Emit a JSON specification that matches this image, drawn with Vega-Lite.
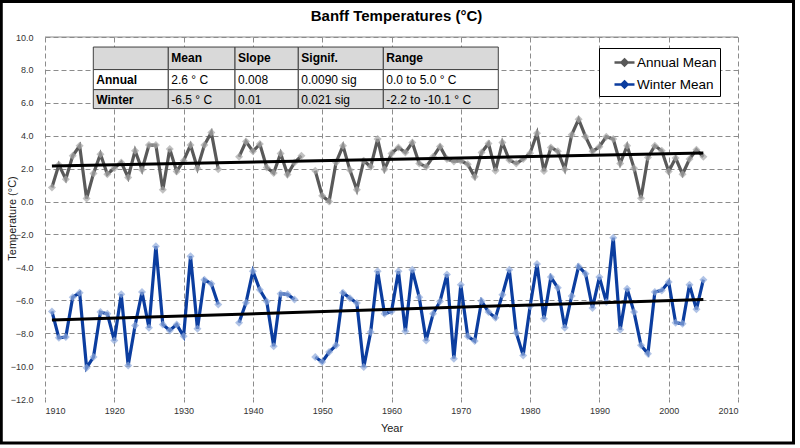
{
  "$schema": "https://vega.github.io/schema/vega-lite/v6.json",
  "width": 693,
  "height": 362,
  "autosize": {"type": "none"},
  "padding": {"left": 45, "top": 37, "right": 62, "bottom": 49},
  "background": "#ffffff",
  "config": {
    "font": "Liberation Sans",
    "view": {"stroke": null},
    "axis": {
      "domain": false, "grid": true, "gridDash": [5, 3], "gridColor": "#8c8c8c",
      "labelFont": "Liberation Sans", "labelFontSize": 9, "labelColor": "#333333",
      "titleFont": "Liberation Sans", "titleFontSize": 11, "titleFontWeight": "normal", "titleColor": "#222222"
    },
    "axisX": {"ticks": true, "tickSize": 3, "tickColor": "#888888", "labelPadding": 4, "titlePadding": 7},
    "axisY": {"ticks": false, "labelPadding": 12, "titleX": -33, "titleY": 181, "titleAngle": -90, "titleAlign": "center", "titleBaseline": "middle"}
  },
  "title": {"text": "Banff Temperatures (°C)", "font": "Liberation Sans", "fontSize": 15, "fontWeight": "bold", "color": "#000000", "offset": -24, "dx": 5, "anchor": "middle"},
  "datasets": {
    "temps": [
      {"year": 1911, "Annual Mean": 0.85, "Winter Mean": -6.68},
      {"year": 1912, "Annual Mean": 2.23, "Winter Mean": -8.28},
      {"year": 1913, "Annual Mean": 1.36, "Winter Mean": -8.23},
      {"year": 1914, "Annual Mean": 2.78, "Winter Mean": -5.81},
      {"year": 1915, "Annual Mean": 3.39, "Winter Mean": -5.54},
      {"year": 1916, "Annual Mean": 0.18, "Winter Mean": -10.1},
      {"year": 1917, "Annual Mean": 1.71, "Winter Mean": -9.45},
      {"year": 1918, "Annual Mean": 2.88, "Winter Mean": -6.72},
      {"year": 1919, "Annual Mean": 1.66, "Winter Mean": -6.82},
      {"year": 1920, "Annual Mean": 2.03, "Winter Mean": -8.44},
      {"year": 1921, "Annual Mean": 2.38, "Winter Mean": -5.64},
      {"year": 1922, "Annual Mean": 1.46, "Winter Mean": -9.96},
      {"year": 1923, "Annual Mean": 3.09, "Winter Mean": -7.53},
      {"year": 1924, "Annual Mean": 1.93, "Winter Mean": -5.5},
      {"year": 1925, "Annual Mean": 3.43, "Winter Mean": -7.67},
      {"year": 1926, "Annual Mean": 3.43, "Winter Mean": -2.71},
      {"year": 1927, "Annual Mean": 0.71, "Winter Mean": -7.47},
      {"year": 1928, "Annual Mean": 3.19, "Winter Mean": -7.83},
      {"year": 1929, "Annual Mean": 1.83, "Winter Mean": -7.47},
      {"year": 1930, "Annual Mean": 2.48, "Winter Mean": -8.19},
      {"year": 1931, "Annual Mean": 3.43, "Winter Mean": -3.32},
      {"year": 1932, "Annual Mean": 2.03, "Winter Mean": -7.73},
      {"year": 1933, "Annual Mean": 3.43, "Winter Mean": -4.75},
      {"year": 1934, "Annual Mean": 4.2, "Winter Mean": -5.0},
      {"year": 1935, "Annual Mean": 1.97, "Winter Mean": -6.25},
      {"year": 1936, "Annual Mean": null, "Winter Mean": null},
      {"year": 1937, "Annual Mean": null, "Winter Mean": null},
      {"year": 1938, "Annual Mean": 2.72, "Winter Mean": -7.36},
      {"year": 1939, "Annual Mean": 3.65, "Winter Mean": -6.15},
      {"year": 1940, "Annual Mean": 3.05, "Winter Mean": -4.23},
      {"year": 1941, "Annual Mean": 3.49, "Winter Mean": -5.36},
      {"year": 1942, "Annual Mean": 2.07, "Winter Mean": -6.07},
      {"year": 1943, "Annual Mean": 1.73, "Winter Mean": -8.8},
      {"year": 1944, "Annual Mean": 2.92, "Winter Mean": -5.6},
      {"year": 1945, "Annual Mean": 1.64, "Winter Mean": -5.64},
      {"year": 1946, "Annual Mean": 2.38, "Winter Mean": -5.95},
      {"year": 1947, "Annual Mean": 2.78, "Winter Mean": null},
      {"year": 1948, "Annual Mean": null, "Winter Mean": null},
      {"year": 1949, "Annual Mean": 1.87, "Winter Mean": -9.45},
      {"year": 1950, "Annual Mean": 0.35, "Winter Mean": -9.75},
      {"year": 1951, "Annual Mean": 0.0, "Winter Mean": -9.15},
      {"year": 1952, "Annual Mean": 2.38, "Winter Mean": -8.74},
      {"year": 1953, "Annual Mean": 3.39, "Winter Mean": -5.54},
      {"year": 1954, "Annual Mean": 1.91, "Winter Mean": -5.87},
      {"year": 1955, "Annual Mean": 0.71, "Winter Mean": -6.17},
      {"year": 1956, "Annual Mean": 2.48, "Winter Mean": -10.06},
      {"year": 1957, "Annual Mean": 2.11, "Winter Mean": -7.93},
      {"year": 1958, "Annual Mean": 3.8, "Winter Mean": -4.23},
      {"year": 1959, "Annual Mean": 1.97, "Winter Mean": -6.82},
      {"year": 1960, "Annual Mean": 2.92, "Winter Mean": -6.68},
      {"year": 1961, "Annual Mean": 3.29, "Winter Mean": -4.23},
      {"year": 1962, "Annual Mean": 2.98, "Winter Mean": -7.89},
      {"year": 1963, "Annual Mean": 3.59, "Winter Mean": -4.15},
      {"year": 1964, "Annual Mean": 2.31, "Winter Mean": -5.81},
      {"year": 1965, "Annual Mean": 2.11, "Winter Mean": -8.44},
      {"year": 1966, "Annual Mean": 2.72, "Winter Mean": -6.82},
      {"year": 1967, "Annual Mean": 3.35, "Winter Mean": -6.07},
      {"year": 1968, "Annual Mean": 2.58, "Winter Mean": -4.43},
      {"year": 1969, "Annual Mean": 2.44, "Winter Mean": -9.55},
      {"year": 1970, "Annual Mean": 2.48, "Winter Mean": -5.06},
      {"year": 1971, "Annual Mean": 2.27, "Winter Mean": -8.19},
      {"year": 1972, "Annual Mean": 1.5, "Winter Mean": -8.48},
      {"year": 1973, "Annual Mean": 2.98, "Winter Mean": -6.05},
      {"year": 1974, "Annual Mean": 3.53, "Winter Mean": -6.72},
      {"year": 1975, "Annual Mean": 1.87, "Winter Mean": -7.06},
      {"year": 1976, "Annual Mean": 3.59, "Winter Mean": -5.66},
      {"year": 1977, "Annual Mean": 2.52, "Winter Mean": -4.15},
      {"year": 1978, "Annual Mean": 2.31, "Winter Mean": -7.97},
      {"year": 1979, "Annual Mean": 2.58, "Winter Mean": -9.35},
      {"year": 1980, "Annual Mean": 2.94, "Winter Mean": -6.37},
      {"year": 1981, "Annual Mean": 4.15, "Winter Mean": -3.8},
      {"year": 1982, "Annual Mean": 1.85, "Winter Mean": -7.12},
      {"year": 1983, "Annual Mean": 3.29, "Winter Mean": -4.59},
      {"year": 1984, "Annual Mean": 3.05, "Winter Mean": -5.24},
      {"year": 1985, "Annual Mean": 1.97, "Winter Mean": -7.67},
      {"year": 1986, "Annual Mean": 4.06, "Winter Mean": -5.74},
      {"year": 1987, "Annual Mean": 5.0, "Winter Mean": -3.94},
      {"year": 1988, "Annual Mean": 3.94, "Winter Mean": -4.39},
      {"year": 1989, "Annual Mean": 3.05, "Winter Mean": -6.47},
      {"year": 1990, "Annual Mean": 3.33, "Winter Mean": -4.59},
      {"year": 1991, "Annual Mean": 3.94, "Winter Mean": -6.11},
      {"year": 1992, "Annual Mean": 3.8, "Winter Mean": -2.2},
      {"year": 1993, "Annual Mean": 2.31, "Winter Mean": -7.79},
      {"year": 1994, "Annual Mean": 3.39, "Winter Mean": -5.3},
      {"year": 1995, "Annual Mean": 2.03, "Winter Mean": -6.72},
      {"year": 1996, "Annual Mean": 0.2, "Winter Mean": -8.74},
      {"year": 1997, "Annual Mean": 2.68, "Winter Mean": -9.25},
      {"year": 1998, "Annual Mean": 3.39, "Winter Mean": -5.5},
      {"year": 1999, "Annual Mean": 3.09, "Winter Mean": -5.4},
      {"year": 2000, "Annual Mean": 1.83, "Winter Mean": -4.89},
      {"year": 2001, "Annual Mean": 2.64, "Winter Mean": -7.36},
      {"year": 2002, "Annual Mean": 1.66, "Winter Mean": -7.43},
      {"year": 2003, "Annual Mean": 2.58, "Winter Mean": -5.06},
      {"year": 2004, "Annual Mean": 3.15, "Winter Mean": -6.55},
      {"year": 2005, "Annual Mean": 2.72, "Winter Mean": -4.75}
    ],
    "tableCols": [
      {"col": "label", "x0": 1916.97, "x1": 1927.79},
      {"col": "mean", "x0": 1927.79, "x1": 1937.42},
      {"col": "slope", "x0": 1937.42, "x1": 1946.55},
      {"col": "signif", "x0": 1946.55, "x1": 1958.82},
      {"col": "range", "x0": 1958.82, "x1": 1975.41}
    ],
    "tableRows": [
      {"row": "head", "y0": 9.39, "y1": 8.02},
      {"row": "Annual", "y0": 8.02, "y1": 6.8},
      {"row": "Winter", "y0": 6.8, "y1": 5.65}
    ],
    "cells": [
      {"row": "head", "col": "label", "text": ""},
      {"row": "head", "col": "mean", "text": "Mean"},
      {"row": "head", "col": "slope", "text": "Slope"},
      {"row": "head", "col": "signif", "text": "Signif."},
      {"row": "head", "col": "range", "text": "Range"},
      {"row": "Annual", "col": "label", "text": "Annual"},
      {"row": "Annual", "col": "mean", "text": "2.6 ° C"},
      {"row": "Annual", "col": "slope", "text": "0.008"},
      {"row": "Annual", "col": "signif", "text": "0.0090 sig"},
      {"row": "Annual", "col": "range", "text": "0.0 to 5.0 ° C"},
      {"row": "Winter", "col": "label", "text": "Winter"},
      {"row": "Winter", "col": "mean", "text": "-6.5 ° C"},
      {"row": "Winter", "col": "slope", "text": "0.01"},
      {"row": "Winter", "col": "signif", "text": "0.021 sig"},
      {"row": "Winter", "col": "range", "text": "-2.2 to -10.1 ° C"}
    ],
    "one": [{}]
  },
  "layer": [
    {
      "data": {"name": "temps"},
      "transform": [{"fold": ["Annual Mean", "Winter Mean"], "as": ["series", "temp"]}],
      "mark": {"type": "line", "strokeWidth": 3.2},
      "encoding": {
        "x": {"field": "year", "type": "quantitative", "scale": {"domain": [1910, 2010], "nice": false, "zero": false}, "axis": {"title": "Year", "values": [1910, 1920, 1930, 1940, 1950, 1960, 1970, 1980, 1990, 2000, 2010], "format": "d"}},
        "y": {"field": "temp", "type": "quantitative", "scale": {"domain": [-12, 10], "nice": false, "zero": false}, "axis": {"title": "Temperature (°C)", "values": [-12, -10, -8, -6, -4, -2, 0, 2, 4, 6, 8, 10], "format": ".1f", "gridOpacity": {"condition": {"test": "datum.value === -12", "value": 0}, "value": 1}}},
        "color": {
          "field": "series", "type": "nominal",
          "scale": {"domain": ["Annual Mean", "Winter Mean"], "range": ["#595959", "#0b3d9f"]},
          "legend": {
            "title": null, "orient": "none", "legendX": 554, "legendY": 11, "direction": "vertical",
            "padding": 3, "fillColor": "#ffffff", "strokeColor": "#000000",
            "symbolType": "M-1,0H1M0,-0.3L0.3,0L0,0.3L-0.3,0Z", "symbolSize": 400, "symbolStrokeWidth": 2.5,
            "symbolOffset": 11, "labelOffset": 1, "rowPadding": 2,
            "labelFont": "Liberation Sans", "labelFontSize": 13.5, "labelColor": "#000000"
          }
        }
      }
    },
    {
      "data": {"name": "temps"},
      "transform": [{"fold": ["Annual Mean", "Winter Mean"], "as": ["series", "temp"]}],
      "mark": {"type": "point", "shape": "diamond", "filled": true, "size": 64, "strokeWidth": 0},
      "encoding": {
        "x": {"field": "year", "type": "quantitative", "scale": {"domain": [1910, 2010], "nice": false, "zero": false}, "axis": {"title": "Year", "values": [1910, 1920, 1930, 1940, 1950, 1960, 1970, 1980, 1990, 2000, 2010], "format": "d"}},
        "y": {"field": "temp", "type": "quantitative", "scale": {"domain": [-12, 10], "nice": false, "zero": false}, "axis": {"title": "Temperature (°C)", "values": [-12, -10, -8, -6, -4, -2, 0, 2, 4, 6, 8, 10], "format": ".1f"}},
        "fill": {"condition": {"test": "datum.series === 'Annual Mean'", "value": "#a6a6a6"}, "value": "#8eaadb"}
      }
    },
    {
      "data": {"name": "temps"},
      "transform": [
        {"fold": ["Annual Mean", "Winter Mean"], "as": ["series", "temp"]},
        {"filter": "isValid(datum.temp)"},
        {"regression": "temp", "on": "year", "groupby": ["series"], "extent": [1911, 2005]}
      ],
      "mark": {"type": "line", "color": "#000000", "strokeWidth": 3},
      "encoding": {
        "x": {"field": "year", "type": "quantitative", "scale": {"domain": [1910, 2010], "nice": false, "zero": false}, "axis": {"title": "Year", "values": [1910, 1920, 1930, 1940, 1950, 1960, 1970, 1980, 1990, 2000, 2010], "format": "d"}},
        "y": {"field": "temp", "type": "quantitative", "scale": {"domain": [-12, 10], "nice": false, "zero": false}, "axis": {"title": "Temperature (°C)", "values": [-12, -10, -8, -6, -4, -2, 0, 2, 4, 6, 8, 10], "format": ".1f"}},
        "detail": {"field": "series", "type": "nominal"}
      }
    },
    {
      "data": {"name": "cells"},
      "transform": [
        {"lookup": "col", "from": {"data": {"name": "tableCols"}, "key": "col", "fields": ["x0", "x1"]}},
        {"lookup": "row", "from": {"data": {"name": "tableRows"}, "key": "row", "fields": ["y0", "y1"]}}
      ],
      "mark": {"type": "rect", "stroke": "#404040", "strokeWidth": 1},
      "encoding": {
        "x": {"field": "x0", "type": "quantitative", "scale": {"domain": [1910, 2010], "nice": false, "zero": false}, "axis": {"title": "Year", "values": [1910, 1920, 1930, 1940, 1950, 1960, 1970, 1980, 1990, 2000, 2010], "format": "d"}},
        "x2": {"field": "x1"},
        "y": {"field": "y0", "type": "quantitative", "scale": {"domain": [-12, 10], "nice": false, "zero": false}, "axis": {"title": "Temperature (°C)", "values": [-12, -10, -8, -6, -4, -2, 0, 2, 4, 6, 8, 10], "format": ".1f"}},
        "y2": {"field": "y1"},
        "fill": {"condition": {"test": "datum.row === 'Annual'", "value": "#ffffff"}, "value": "#d9d9d9"}
      }
    },
    {
      "data": {"name": "cells"},
      "transform": [
        {"lookup": "col", "from": {"data": {"name": "tableCols"}, "key": "col", "fields": ["x0", "x1"]}},
        {"lookup": "row", "from": {"data": {"name": "tableRows"}, "key": "row", "fields": ["y0", "y1"]}},
        {"filter": "datum.row === 'head' || datum.col === 'label'"}
      ],
      "mark": {"type": "text", "align": "left", "baseline": "middle", "dx": 3, "dy": 10.5, "font": "Liberation Sans", "fontSize": 12, "fontWeight": "bold", "color": "#000000"},
      "encoding": {
        "x": {"field": "x0", "type": "quantitative", "scale": {"domain": [1910, 2010], "nice": false, "zero": false}, "axis": {"title": "Year", "values": [1910, 1920, 1930, 1940, 1950, 1960, 1970, 1980, 1990, 2000, 2010], "format": "d"}},
        "y": {"field": "y0", "type": "quantitative", "scale": {"domain": [-12, 10], "nice": false, "zero": false}, "axis": {"title": "Temperature (°C)", "values": [-12, -10, -8, -6, -4, -2, 0, 2, 4, 6, 8, 10], "format": ".1f"}},
        "text": {"field": "text", "type": "nominal"}
      }
    },
    {
      "data": {"name": "cells"},
      "transform": [
        {"lookup": "col", "from": {"data": {"name": "tableCols"}, "key": "col", "fields": ["x0", "x1"]}},
        {"lookup": "row", "from": {"data": {"name": "tableRows"}, "key": "row", "fields": ["y0", "y1"]}},
        {"filter": "datum.row !== 'head' && datum.col !== 'label'"}
      ],
      "mark": {"type": "text", "align": "left", "baseline": "middle", "dx": 3, "dy": 10.5, "font": "Liberation Sans", "fontSize": 12, "fontWeight": "normal", "color": "#000000"},
      "encoding": {
        "x": {"field": "x0", "type": "quantitative", "scale": {"domain": [1910, 2010], "nice": false, "zero": false}, "axis": {"title": "Year", "values": [1910, 1920, 1930, 1940, 1950, 1960, 1970, 1980, 1990, 2000, 2010], "format": "d"}},
        "y": {"field": "y0", "type": "quantitative", "scale": {"domain": [-12, 10], "nice": false, "zero": false}, "axis": {"title": "Temperature (°C)", "values": [-12, -10, -8, -6, -4, -2, 0, 2, 4, 6, 8, 10], "format": ".1f"}},
        "text": {"field": "text", "type": "nominal"}
      }
    },
    {
      "data": {"name": "one"},
      "mark": {"type": "rule", "color": "#8c8c8c", "strokeWidth": 1},
      "encoding": {
        "y": {"datum": 10, "type": "quantitative", "scale": {"domain": [-12, 10], "nice": false, "zero": false}, "axis": {"title": "Temperature (°C)", "values": [-12, -10, -8, -6, -4, -2, 0, 2, 4, 6, 8, 10], "format": ".1f"}}
      }
    },
    {
      "data": {"name": "one"},
      "mark": {"type": "rect", "fill": null, "stroke": "#000000", "strokeWidth": 3, "clip": false},
      "encoding": {
        "x": {"datum": 1903.69, "type": "quantitative", "scale": {"domain": [1910, 2010], "nice": false, "zero": false}, "axis": {"title": "Year", "values": [1910, 1920, 1930, 1940, 1950, 1960, 1970, 1980, 1990, 2000, 2010], "format": "d"}},
        "x2": {"datum": 2018.01},
        "y": {"datum": 12.15, "type": "quantitative", "scale": {"domain": [-12, 10], "nice": false, "zero": false}, "axis": {"title": "Temperature (°C)", "values": [-12, -10, -8, -6, -4, -2, 0, 2, 4, 6, 8, 10], "format": ".1f"}},
        "y2": {"datum": -14.68}
      }
    }
  ]
}
